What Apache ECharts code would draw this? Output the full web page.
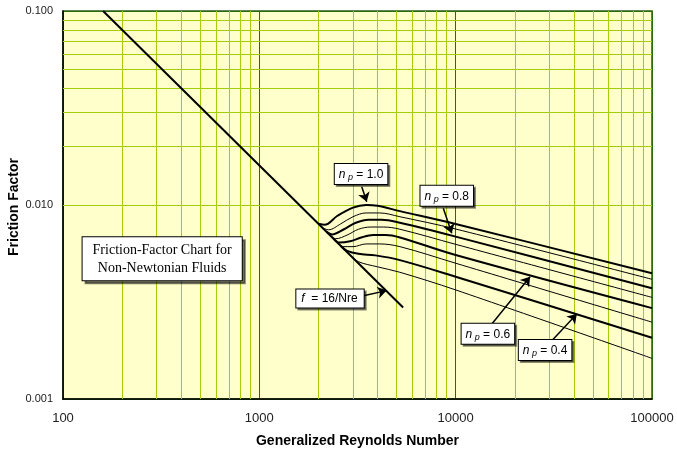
<!DOCTYPE html>
<html><head><meta charset="utf-8">
<script src="https://cdn.jsdelivr.net/npm/echarts@6/dist/echarts.min.js"></script>
<style>html,body{margin:0;padding:0;background:#fff}#c{width:677px;height:452px}</style>
</head><body><div id="c"></div>
<script>
// ---- data ----
const xTickValues = [100, 1000, 10000, 100000];
const yTickValues = [0.001, 0.01, 0.1];
const laminarRe = [160, 5400];
const laminarF  = [0.1, 0.00296];
const np10Re = [2000, 2150, 2500, 3000, 3500, 4000, 5200, 10000, 100000];
const np10F  = [0.0080, 0.0079, 0.0088, 0.0097, 0.0100, 0.0099, 0.0093, 0.00798, 0.00445];
const np09Re = [2100, 2250, 2600, 3000, 3500, 4100, 5200, 10000, 100000];
const np09F  = [0.00762, 0.00745, 0.0080, 0.0087, 0.0091, 0.0091, 0.0087, 0.00752, 0.00414];
const np08Re = [2200, 2350, 2700, 3100, 3600, 4200, 5200, 10000, 100000];
const np08F  = [0.00727, 0.00705, 0.0075, 0.0081, 0.0084, 0.0084, 0.0081, 0.00687, 0.00372];
const np07Re = [2300, 2450, 2800, 3200, 3700, 4300, 5200, 10000, 100000];
const np07F  = [0.00696, 0.0067, 0.0070, 0.0075, 0.0077, 0.0077, 0.0075, 0.00627, 0.00334];
const np06Re = [2400, 2550, 2900, 3300, 3800, 4400, 5200, 10000, 100000];
const np06F  = [0.00667, 0.0064, 0.0065, 0.0068, 0.0070, 0.0070, 0.0068, 0.00552, 0.00294];
const np05Re = [2500, 2650, 3000, 3500, 4100, 5200, 10000, 100000];
const np05F  = [0.0064, 0.0061, 0.0061, 0.0063, 0.0063, 0.0061, 0.00501, 0.00249];
const np04Re = [2600, 2800, 3200, 3900, 5200, 10000, 100000];
const np04F  = [0.00615, 0.0058, 0.0056, 0.0055, 0.0052, 0.00427, 0.00207];
const np03Re = [2900, 3200, 4000, 5200, 10000, 100000];
const np03F  = [0.00552, 0.0051, 0.0048, 0.0045, 0.00365, 0.00162];
const minorX = [200,300,400,500,600,700,800,900,2000,3000,4000,5000,6000,7000,8000,9000,20000,30000,40000,50000,60000,70000,80000,90000];
const minorY = [0.002,0.003,0.004,0.005,0.006,0.007,0.008,0.009,0.02,0.03,0.04,0.05,0.06,0.07,0.08,0.09];
// annotations
const noteLabels = ['1.0', '0.8', '0.6', '0.4'];
const noteBoxRe  = [3297, 9008, 14590, 28540];
const noteBoxF   = [0.01445, 0.01115, 0.00217, 0.00179];
const arrowFromRe = [3324, 8650, 15280, 30870, 3388];
const arrowFromF  = [0.01242, 0.00962, 0.002435, 0.001998, 0.00341];
const arrowToRe   = [3524, 9550, 23930, 41400, 4450];
const arrowToF    = [0.0104, 0.00715, 0.00427, 0.00274, 0.00362];
const lamNote = {text: '16/Nre', re: 2291, f: 0.0033};
const titleNote = {text: 'Friction-Factor Chart for\nNon-Newtonian Fluids', re: 320, f: 0.00528};
const yAxisTitle = 'Friction Factor';
const xAxisTitle = 'Generalized Reynolds Number';

const zip = (a, b) => a.map((v, i) => [v, b[i]]);
const curveDefs = [
  [np10Re, np10F, 2], [np09Re, np09F, 1], [np08Re, np08F, 2], [np07Re, np07F, 1],
  [np06Re, np06F, 2], [np05Re, np05F, 1], [np04Re, np04F, 2], [np03Re, np03F, 1]
];
const FONT = 'Liberation Sans, Arial, sans-serif';
const series = [];
series.push({
  type: 'line', data: [], z: 1, silent: true,
  markLine: {
    silent: true, symbol: 'none', animation: false, label: {show: false},
    lineStyle: {color: '#A2CE0C', width: 1, type: 'solid'},
    data: minorX.map(v => ({xAxis: v})).concat(minorY.map(v => ({yAxis: v})))
  }
});
series.push({
  type: 'line', data: zip(laminarRe, laminarF), symbol: 'none', z: 5,
  lineStyle: {color: '#000', width: 2}
});
curveDefs.forEach(([re, f, w]) => {
  series.push({
    type: 'line', data: zip(re, f), symbol: 'none', smooth: 0.35, z: 5,
    lineStyle: {color: '#000', width: w}
  });
});
const boxLabel = {
  show: true, position: 'inside', color: '#000', fontFamily: FONT, fontSize: 12,
  backgroundColor: '#fff', borderColor: '#000', borderWidth: 1, padding: [3, 4, 2, 4],
  shadowColor: 'rgba(0,0,0,0.45)', shadowOffsetX: 2, shadowOffsetY: 2, shadowBlur: 0,
  rich: {
    i: {fontStyle: 'italic', fontSize: 12, fontFamily: FONT},
    s: {fontStyle: 'italic', fontSize: 9, fontFamily: FONT, padding: [6, 0, 0, 0]},
    t: {fontSize: 12, fontFamily: FONT}
  }
};
const markPts = noteLabels.map((l, i) => ({
  coord: [noteBoxRe[i], noteBoxF[i]],
  label: Object.assign({}, boxLabel, {formatter: '{i|n}{s| p}{t| = ' + l + '}'})
}));
markPts.push({
  coord: [lamNote.re, lamNote.f],
  label: Object.assign({}, boxLabel, {formatter: '{i|f}{t|  = ' + lamNote.text + '}', padding: [3, 6, 3, 5]})
});
markPts.push({
  coord: [titleNote.re, titleNote.f],
  label: Object.assign({}, boxLabel, {
    formatter: titleNote.text, fontFamily: 'Liberation Serif, Times New Roman, serif',
    fontSize: 14, lineHeight: 18, padding: [4, 10, 3, 10], align: 'center',
    shadowOffsetX: 3, shadowOffsetY: 3, shadowColor: 'rgba(0,0,0,0.5)', rich: {}
  })
});
series.push({
  type: 'line', data: [], z: 10, silent: true,
  markLine: {
    silent: true, animation: false, symbol: ['none', 'arrow'], symbolSize: 9,
    label: {show: false},
    lineStyle: {color: '#000', width: 1.5, type: 'solid'},
    data: arrowFromRe.map((r, i) => [{coord: [r, arrowFromF[i]]}, {coord: [arrowToRe[i], arrowToF[i]]}])
  },
  markPoint: {
    silent: true, animation: false, symbol: 'circle', symbolSize: 0,
    itemStyle: {color: 'transparent'},
    data: markPts
  }
});

const chart = echarts.init(document.getElementById('c'));
chart.setOption({
  animation: false,
  grid: {left: 63, top: 11, right: 25, bottom: 53, show: true, backgroundColor: '#FFFFCC',
         borderColor: '#2E5E1E', borderWidth: 1.5, outerBoundsMode: 'none', containLabel: false},
  graphic: [{
    type: 'text', x: 14, y: 207, rotation: Math.PI / 2, silent: true,
    style: {text: yAxisTitle, font: 'bold 14px ' + FONT, fill: '#000',
            align: 'center', verticalAlign: 'middle'}
  }],
  xAxis: {
    type: 'log', logBase: 10, min: xTickValues[0], max: xTickValues[xTickValues.length - 1],
    name: xAxisTitle, nameLocation: 'middle', nameGap: 35,
    nameTextStyle: {fontFamily: FONT, fontSize: 14, fontWeight: 'bold', color: '#000'},
    axisLine: {lineStyle: {color: '#000', width: 1.5}},
    axisTick: {show: false},
    axisLabel: {fontFamily: FONT, fontSize: 13, color: '#222', margin: 13,
                formatter: v => String(Math.round(v))},
    splitLine: {show: true, lineStyle: {color: '#2A6A10', width: 1}}
  },
  yAxis: {
    type: 'log', logBase: 10, min: yTickValues[0], max: yTickValues[yTickValues.length - 1],
    axisLine: {lineStyle: {color: '#000', width: 1.5}},
    axisTick: {show: false},
    axisLabel: {fontFamily: FONT, fontSize: 11, color: '#222', margin: 10,
                formatter: v => v.toFixed(3)},
    splitLine: {show: true, lineStyle: {color: '#2A6A10', width: 1}}
  },
  series: series
});
</script></body></html>
